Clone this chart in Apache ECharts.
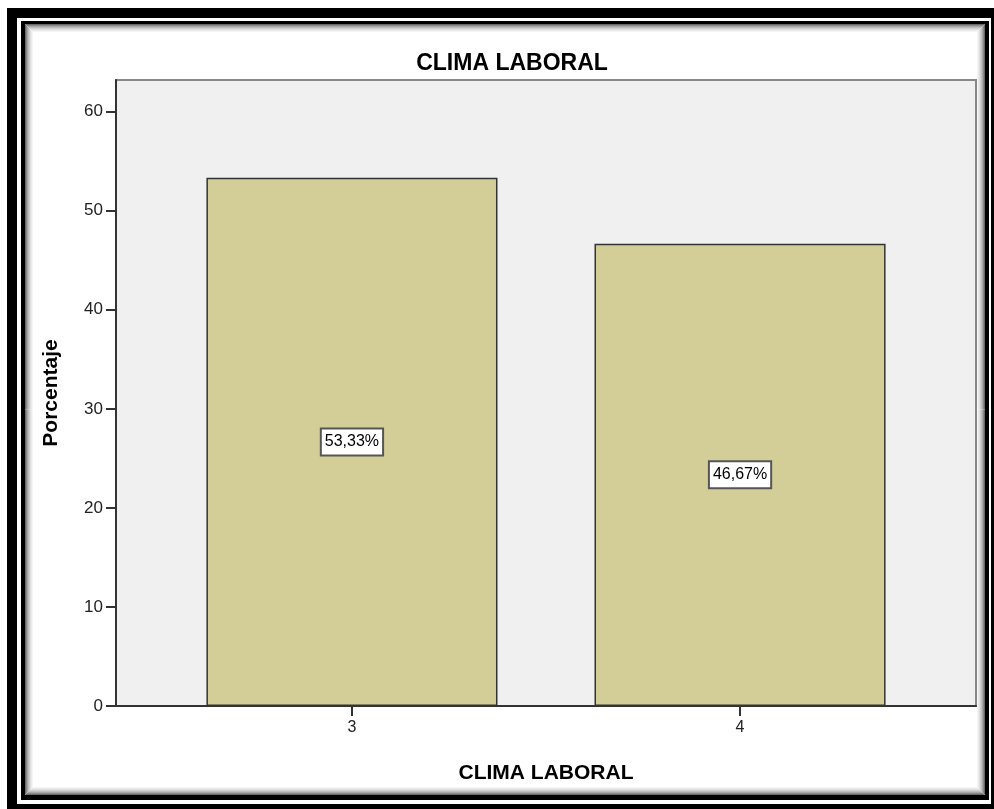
<!DOCTYPE html>
<html>
<head>
<meta charset="utf-8">
<script src="https://cdn.jsdelivr.net/npm/echarts@6/dist/echarts.min.js"></script>
<style>
  html, body { margin: 0; padding: 0; background: #fff; }
  #chart { width: 994px; height: 809px; }
</style>
</head>
<body>
<div id="chart"></div>
<script>
// Clima laboral: percentage per level
const categories = [3, 4];
const percentages = [53.33, 46.67];
const yTicks = [0, 10, 20, 30, 40, 50, 60];

const chartTitle = 'CLIMA LABORAL';
const xAxisTitle = 'CLIMA LABORAL';
const yAxisTitle = 'Porcentaje';

const FONT = '"Liberation Sans", Arial, sans-serif';

const fmt = v => v.toFixed(2).replace('.', ',') + '%';

// Decorative frame: thick black border, white gap, thin black border, inner shadow
const frame = [
  { type: 'rect', shape: { x: 7, y: 8, width: 1000, height: 810 }, style: { fill: '#000' } },
  { type: 'rect', shape: { x: 17, y: 18, width: 974, height: 786 }, style: { fill: '#fff' } },
  { type: 'rect', shape: { x: 21, y: 21, width: 968, height: 779 }, style: { fill: '#000' } },
  { type: 'rect', shape: { x: 25, y: 24, width: 960, height: 771 }, style: { fill: '#fff' } }
];
const shadeColors = ['#6a6a6a', '#8a8a8a', '#a6a6a6', '#bdbdbd', '#d0d0d0', '#dfdfdf', '#ebebeb', '#f5f5f5'];
shadeColors.forEach((c, i) => {
  frame.push({
    type: 'rect',
    shape: { x: 25.5 + i, y: 24.5 + i, width: 959 - 2 * i, height: 770 - 2 * i },
    style: { fill: 'none', stroke: c, lineWidth: 1 }
  });
});
frame.forEach(el => { el.z = -10; el.silent = true; });

const chart = echarts.init(document.getElementById('chart'), null, { renderer: 'canvas' });

chart.setOption({
  backgroundColor: '#fff',
  animation: false,
  graphic: { elements: frame },
  title: {
    text: chartTitle,
    left: 507,
    textAlign: 'center',
    top: 47,
    textStyle: { fontFamily: FONT, fontSize: 23, fontWeight: 'bold', color: '#000' }
  },
  grid: {
    left: 116, top: 80, right: 18, bottom: 103,
    show: true,
    z: 0,
    backgroundColor: '#f0f0f0',
    borderColor: '#888',
    borderWidth: 2,
    containLabel: false
  },
  xAxis: {
    type: 'value',
    min: 2.392,
    max: 4.608,
    name: xAxisTitle,
    nameLocation: 'middle',
    nameGap: 57,
    nameTextStyle: { fontFamily: FONT, fontSize: 21, fontWeight: 'bold', color: '#000' },
    axisLine: { show: true, lineStyle: { color: '#333', width: 2 } },
    axisTick: { show: true, length: 10, customValues: categories, lineStyle: { color: '#333', width: 2 } },
    axisLabel: { customValues: categories, margin: 14, fontFamily: FONT, fontSize: 16, color: '#222', formatter: v => String(v) },
    splitLine: { show: false }
  },
  yAxis: {
    type: 'value',
    min: 0,
    max: 63.2,
    name: yAxisTitle,
    nameLocation: 'middle',
    nameRotate: 90,
    nameGap: 54,
    nameTextStyle: { fontFamily: FONT, fontSize: 21, fontWeight: 'bold', color: '#000' },
    axisLine: { show: true, lineStyle: { color: '#333', width: 2 } },
    axisTick: { show: true, length: 10, customValues: yTicks, lineStyle: { color: '#333', width: 2 } },
    axisLabel: { customValues: yTicks, margin: 13, fontFamily: FONT, fontSize: 17, color: '#222' },
    splitLine: { show: false }
  },
  series: [{
    type: 'bar',
    data: categories.map((c, i) => [c, percentages[i]]),
    barWidth: '75%',
    itemStyle: { color: '#d3ce97', borderColor: '#333', borderWidth: 1.5 },
    label: {
      show: true,
      position: 'inside',
      formatter: p => fmt(p.value[1]),
      fontFamily: FONT,
      fontSize: 16,
      color: '#000',
      backgroundColor: '#fff',
      borderColor: '#555',
      borderWidth: 2,
      padding: [5, 3, 4, 3]
    }
  }]
});
</script>
</body>
</html>
